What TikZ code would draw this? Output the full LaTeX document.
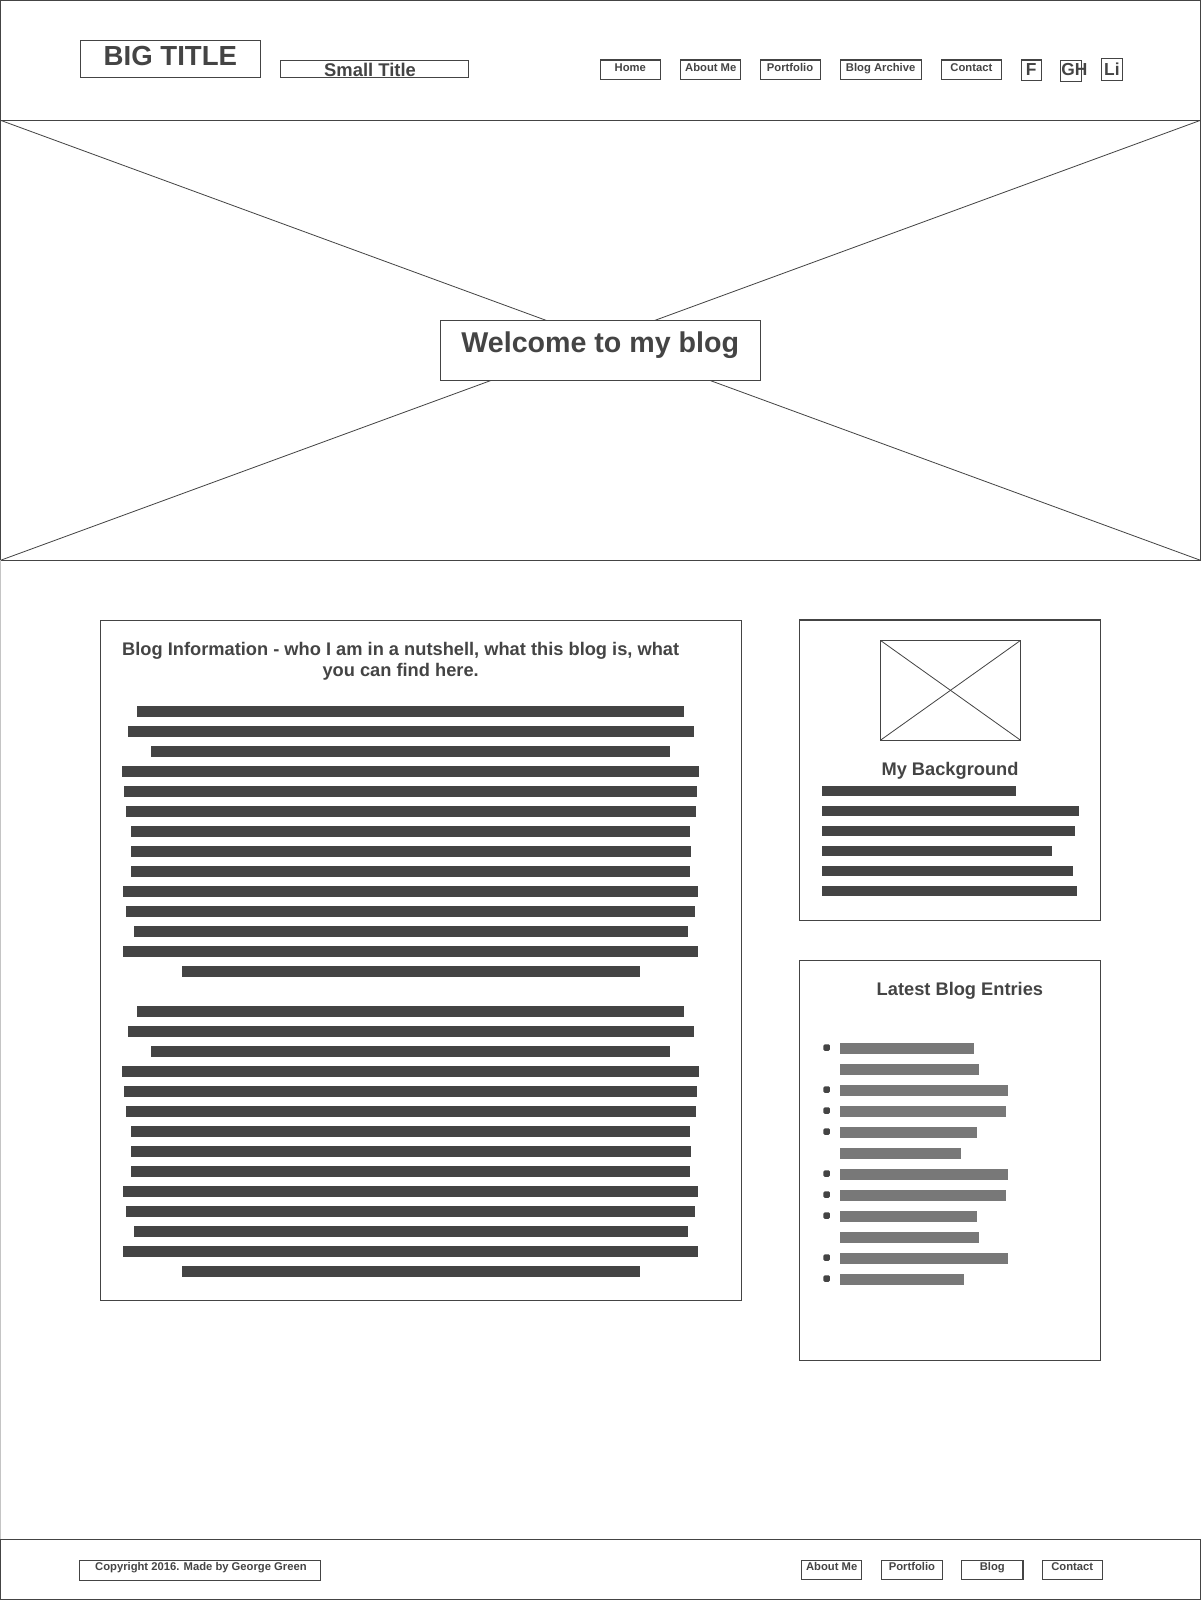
\documentclass[tikz,border=0pt]{standalone}
\usepackage{fontspec}
\setmainfont{Liberation Sans}
\definecolor{linec}{HTML}{444444}
\definecolor{txtc}{HTML}{444444}
\definecolor{barc}{HTML}{444444}
\definecolor{listc}{HTML}{787878}
\definecolor{edgec}{HTML}{C4C4C4}
\begin{document}
\begin{tikzpicture}[x=0.75pt,y=-0.75pt,
  frame/.style={draw=linec,line width=0.75pt},
  thin/.style={draw=linec,line width=0.6pt},
  lbl/.style={text=txtc,inner sep=0pt,anchor=base},
  navfont/.style={font=\fontsize{8.25pt}{10pt}\selectfont\bfseries},
  headfont/.style={font=\fontsize{13.4pt}{15.2pt}\selectfont\bfseries},
  iconfont/.style={font=\fontsize{12.75pt}{14pt}\selectfont\bfseries}]
\useasboundingbox (0,0) rectangle (1177.1,1567.4);

% ---------- header ----------
\draw[frame] (0.5,0.5) rectangle (1174.6,117.7);
\draw[frame] (78.6,39.5) rectangle (255,75.7);
\node[lbl,font=\fontsize{20.25pt}{22pt}\selectfont\bfseries] (bigtitle) at (166.7,63.6) {BIG TITLE};
\draw[frame] (274.5,59) rectangle (458.7,75.7);
\node[lbl,font=\fontsize{13.5pt}{15pt}\selectfont\bfseries] (smalltitle) at (362,74.4) {Small Title};

\foreach \a/\b/\t [count=\i] in {587.3/646.1/Home,666/724.8/About Me,743.6/802.3/Portfolio,821.9/901.3/Blog Archive,920.7/980/Contact}{
  \draw[frame] (\a,58.7) rectangle (\b,77.6);
  \node[lbl,navfont] (nav\i) at ({(\a+\b)/2},69.5) {\t};
}
\draw[frame] (999,58.7) rectangle (1018.9,79);
\node[lbl,iconfont] (iconF) at (1008.9,74) {F};
\draw[frame] (1037.6,59.4) rectangle (1058.3,80);
\node[lbl,iconfont] (iconGH) at (1051.2,74) {GH};
\draw[frame] (1077.7,57.7) rectangle (1098,79);
\node[lbl,iconfont] (iconLi) at (1087.9,74) {Li};

% ---------- hero ----------
\draw[frame] (0.5,117.7) rectangle (1174.6,548.2);
\draw[thin] (0.5,117.7) -- (1174.6,548.2);
\draw[thin] (1174.6,117.7) -- (0.5,548.2);
\draw[frame,fill=white] (430.8,313.4) rectangle (743.9,372.1);
\node[lbl,font=\fontsize{21pt}{23pt}\selectfont\bfseries] (welcome) at (587.3,345) {Welcome to my blog};

% page left edge
\draw[edgec,line width=0.75pt] (0.5,548.2) -- (0.5,1506.7);

% ---------- blog information ----------
\draw[frame] (98.3,607.3) rectangle (725.5,1272);
\node[lbl,headfont,align=center] (bloginfo) at (392,662) {Blog Information - who I am in a nutshell, what this blog is, what\\you can find here.};
\foreach \p in {0,293.55}{
  \foreach \a/\b [count=\k from 0] in {134.1/669.1,125.1/679,147.7/655.5,119.3/683.9,121.4/681.8,123.5/681,128/674.8,128/676,128/674.8,120.2/682.7,123.5/679.8,131.3/673.2,120.2/682.7,178.3/626.3}{
    \fill[barc] (\a,{691.05+\p+19.57*\k}) rectangle (\b,{701.15+\p+19.57*\k});
  }
}

% ---------- my background ----------
\draw[frame] (782.7,606.6) rectangle (1076.5,900.4);
\draw[frame] (861.3,626.5) rectangle (998.6,724.3);
\draw[thin] (861.3,626.5) -- (998.6,724.3);
\draw[thin] (998.6,626.5) -- (861.3,724.3);
\node[lbl,headfont] (mybg) at (929.5,759.2) {My Background};
\foreach \b [count=\k from 0] in {994,1055.7,1051.8,1029.3,1049.8,1053.7}{
  \fill[barc] (804.2,{769+19.57*\k}) rectangle (\b,{779.2+19.57*\k});
}

% ---------- latest blog entries ----------
\draw[frame] (782.7,940) rectangle (1076.5,1331);
\node[lbl,headfont] (latest) at (939.2,974.1) {Latest Blog Entries};
\foreach \b/\u [count=\k from 0] in {953/1,957.8/0,986.2/1,984.2/1,955.9/1,940.2/0,986.2/1,984.2/1,955.9/1,957.8/0,986.2/1,943.2/1}{
  \fill[listc] (821.8,{1020.5+20.55*\k}) rectangle (\b,{1030.9+20.55*\k});
  \ifnum\u=1
    \fill[barc,rounded corners=1pt] (805.6,{1021.7+20.55*\k}) rectangle (812,{1028.1+20.55*\k});
  \fi
}

% ---------- footer ----------
\draw[frame] (0.5,1506.7) rectangle (1174.6,1565.4);
\draw[frame] (77.5,1526.3) rectangle (313.6,1546.4);
\node[lbl,navfont] (copyright) at (196.6,1536.7) {Copyright 2016. Made by George Green};
\foreach \a/\b/\t [count=\i] in {784.4/843/About Me,862.5/922/Portfolio,940.8/1000.9/Blog,1019.8/1078.4/Contact}{
  \draw[frame] (\a,1527) rectangle (\b,1545.5);
  \node[lbl,navfont] (foot\i) at ({(\a+\b)/2},1536.7) {\t};
}
\end{tikzpicture}
\end{document}
